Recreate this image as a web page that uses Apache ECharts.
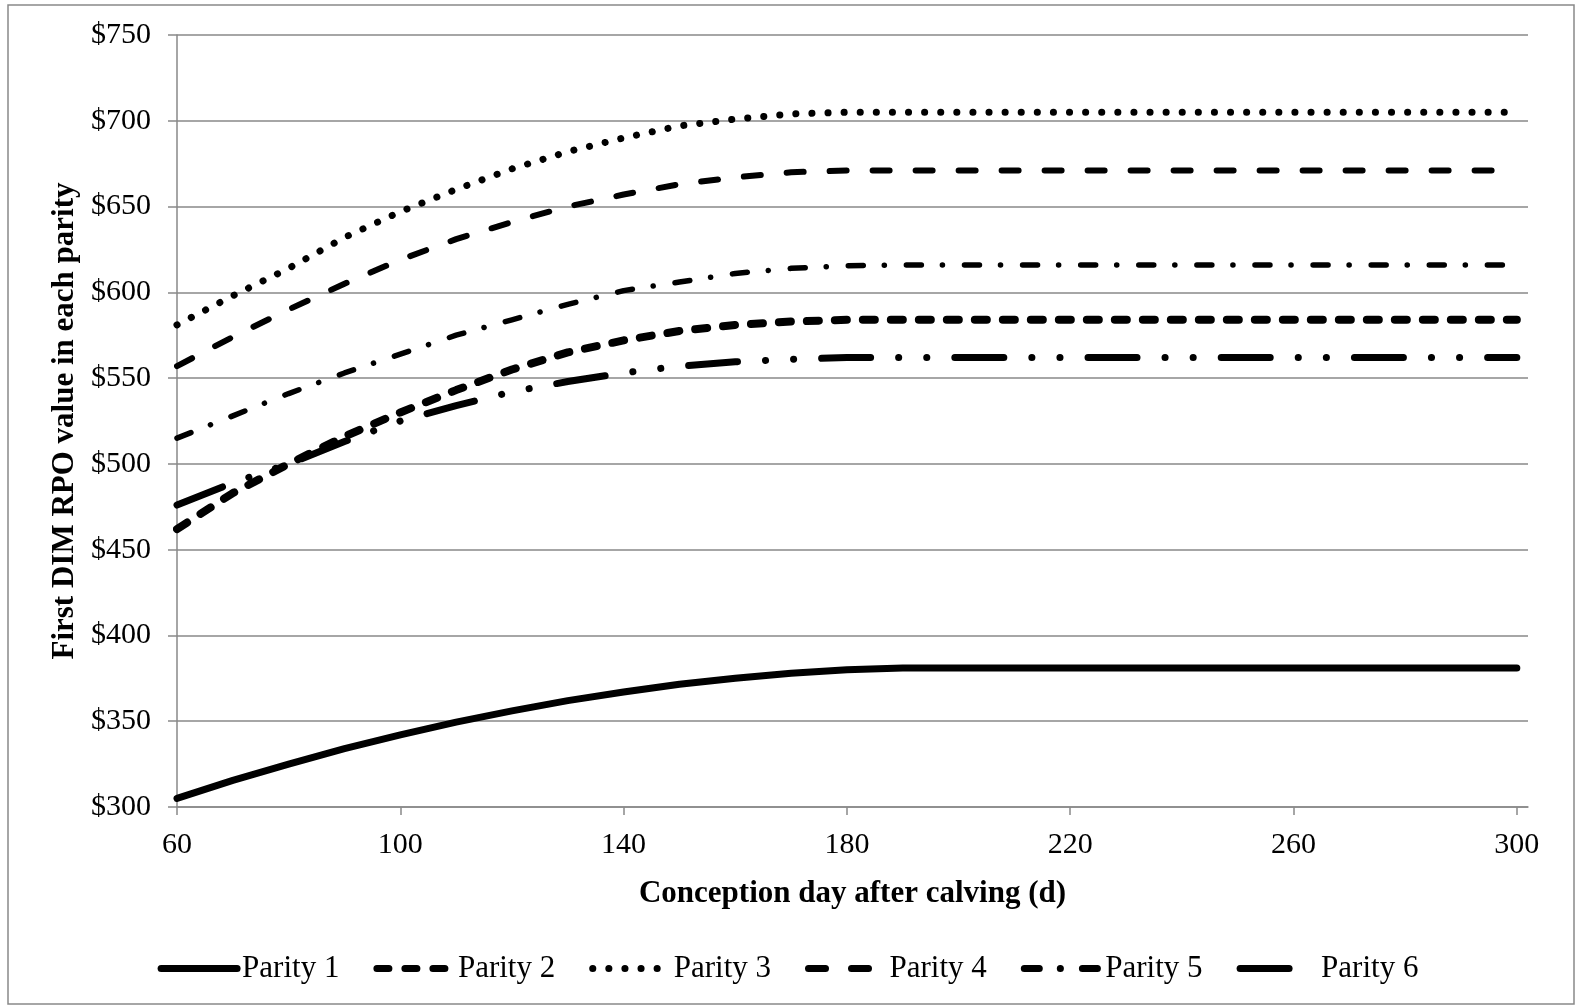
<!DOCTYPE html>
<html>
<head>
<meta charset="utf-8">
<script src="https://cdn.jsdelivr.net/npm/echarts@6/dist/echarts.min.js"></script>
<style>
  html, body { margin: 0; padding: 0; background: #fff; }
  #main { width: 1576px; height: 1005px; }
</style>
</head>
<body>
<div id="main"></div>
<script>
// conception day after calving
var days = [60, 70, 80, 90, 100, 110, 120, 130, 140, 150, 160, 170, 180, 190, 200,
            210, 220, 230, 240, 250, 260, 270, 280, 290, 300];
var xTicks = [60, 100, 140, 180, 220, 260, 300];

var parity1 = [305, 315.5, 325, 334, 342, 349.5, 356, 362, 367, 371.5, 375, 378, 380, 381, 381,
               381, 381, 381, 381, 381, 381, 381, 381, 381, 381];
var parity2 = [462, 483, 500, 516, 530, 543, 555, 565, 572, 577.5, 581, 583, 584, 584, 584,
               584, 584, 584, 584, 584, 584, 584, 584, 584, 584];
var parity3 = [581, 598, 614, 632, 647, 660, 672, 682, 690, 697, 701, 704, 705, 705, 705,
               705, 705, 705, 705, 705, 705, 705, 705, 705, 705];
var parity4 = [557, 574, 590, 605, 619, 631, 641, 650, 657, 663, 667, 670, 671, 671, 671,
               671, 671, 671, 671, 671, 671, 671, 671, 671, 671];
var parity5 = [515, 528, 541, 553, 564, 575, 584, 593, 601, 606, 611, 614, 615.5, 616, 616,
               616, 616, 616, 616, 616, 616, 616, 616, 616, 616];
var parity6 = [476, 489, 500, 513, 525, 534, 542, 548, 553, 557, 559.5, 561, 562, 562, 562,
               562, 562, 562, 562, 562, 562, 562, 562, 562, 562];

var FONT = '"Liberation Serif", "Times New Roman", serif';
var AXIS_GREY = '#898989';

function pairs(vals) {
    return days.map(function (d, i) { return [d, vals[i]]; });
}

function makeSeries(name, vals, width, dash) {
    return {
        name: name,
        type: 'line',
        symbol: 'none',
        smooth: false,
        silent: true,
        itemStyle: { color: '#000' },
        lineStyle: {
            color: '#000',
            width: width,
            type: dash,
            cap: 'round',
            join: 'round'
        },
        data: pairs(vals)
    };
}

var chart = echarts.init(document.getElementById('main'), null, { renderer: 'canvas' });

chart.setOption({
    animation: false,
    textStyle: { fontFamily: FONT, color: '#000' },
    graphic: [{
        type: 'rect',
        shape: { x: 8, y: 5, width: 1566, height: 999 },
        style: { fill: null, stroke: AXIS_GREY, lineWidth: 1.5 },
        silent: true
    }],
    grid: {
        left: 177,
        right: 48,
        top: 35,
        bottom: 198
    },
    legend: {
        bottom: 16,
        left: 'center',
        itemWidth: 76,
        itemHeight: 10,
        itemGap: 34,
        textStyle: { fontFamily: FONT, fontSize: 31, color: '#000' },
        itemStyle: { opacity: 0 },
        lineStyle: { width: 7 },
        data: ['Parity 1', 'Parity 2', 'Parity 3', 'Parity 4', 'Parity 5', 'Parity 6']
    },
    xAxis: {
        type: 'value',
        min: 60,
        max: 302,
        name: 'Conception day after calving (d)',
        nameLocation: 'middle',
        nameGap: 71,
        nameTextStyle: { fontFamily: FONT, fontSize: 31, fontWeight: 'bold', color: '#000' },
        axisLine: { lineStyle: { color: AXIS_GREY, width: 1.5 } },
        axisTick: { show: true, length: 8, customValues: xTicks, lineStyle: { color: AXIS_GREY, width: 1.5 } },
        axisLabel: { customValues: xTicks, fontSize: 30, margin: 23, color: '#000', fontFamily: FONT },
        splitLine: { show: false }
    },
    yAxis: {
        type: 'value',
        min: 300,
        max: 750,
        interval: 50,
        name: 'First DIM RPO value in each parity',
        nameLocation: 'middle',
        nameGap: 97,
        nameTextStyle: { fontFamily: FONT, fontSize: 31, fontWeight: 'bold', color: '#000' },
        axisLine: { show: true, lineStyle: { color: AXIS_GREY, width: 1.5 } },
        axisTick: { show: true, length: 9, lineStyle: { color: AXIS_GREY, width: 1.5 } },
        axisLabel: {
            fontSize: 30,
            margin: 26,
            color: '#000',
            fontFamily: FONT,
            formatter: function (v) { return '$' + v; }
        },
        splitLine: { show: true, lineStyle: { color: AXIS_GREY, width: 1.5 } }
    },
    series: [
        makeSeries('Parity 1', parity1, 7, 'solid'),
        makeSeries('Parity 2', parity2, 8, [12, 16]),
        makeSeries('Parity 3', parity3, 7, [0.1, 16]),
        makeSeries('Parity 4', parity4, 6, [17, 26]),
        makeSeries('Parity 5', parity5, 5.5, [15, 21, 0.1, 22]),
        makeSeries('Parity 6', parity6, 7, [49, 28, 0.1, 28, 0.1, 28])
    ]
});
</script>
</body>
</html>
